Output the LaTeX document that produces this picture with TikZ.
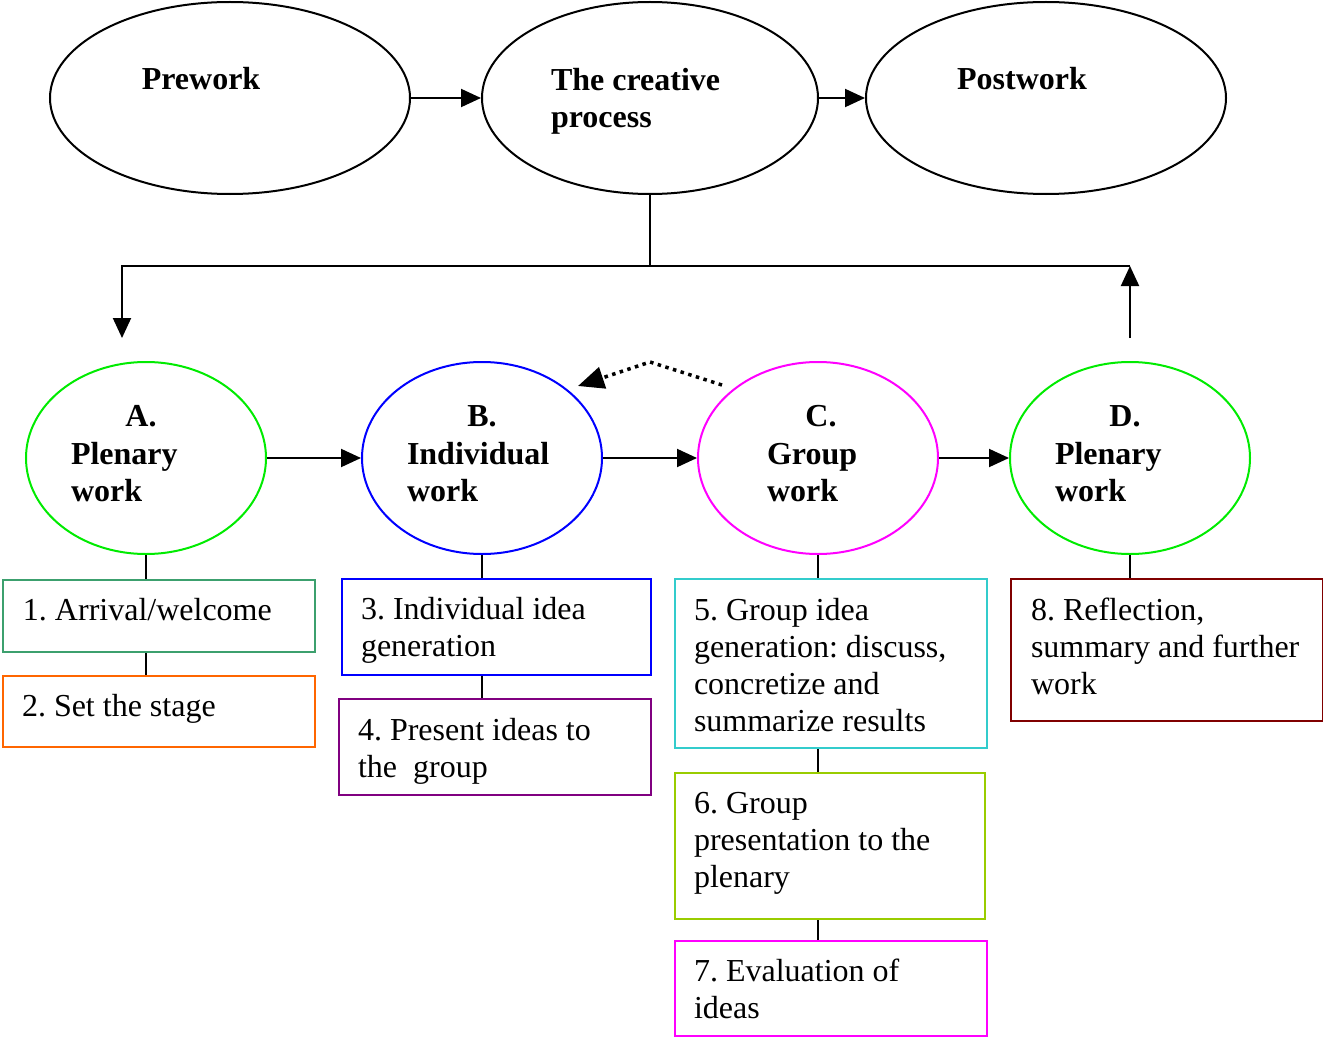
\documentclass[tikz,border=0pt]{standalone}
\usepackage{fontspec}
\setmainfont{Liberation Serif}
\usetikzlibrary{shapes.geometric,arrows.meta}

\definecolor{boxgreen}{RGB}{60,160,110}
\definecolor{boxorange}{RGB}{255,102,0}
\definecolor{boxblue}{RGB}{0,0,255}
\definecolor{boxpurple}{RGB}{128,0,128}
\definecolor{boxcyan}{RGB}{51,204,204}
\definecolor{boxlime}{RGB}{153,204,0}
\definecolor{boxmagenta}{RGB}{255,0,255}
\definecolor{boxred}{RGB}{128,0,0}
\definecolor{ovalgreen}{RGB}{0,235,0}

\newcommand{\firstline}{\rule{0pt}{24pt}}

\tikzset{
  every picture/.style={line width=2pt},
  phase/.style={ellipse, draw=black, minimum width=360pt, minimum height=192pt, inner sep=0pt},
  stage/.style={ellipse, draw=#1, minimum width=240pt, minimum height=192pt, inner sep=0pt},
  taskbox/.style={rectangle, draw=#1, anchor=north west, inner sep=0pt},
  tasktext/.style={anchor=north west, inner sep=0pt, align=left,
                   font=\fontsize{32}{37}\selectfont\frenchspacing},
  headtext/.style={inner sep=0pt, align=left,
                   font=\fontsize{32}{37}\selectfont\bfseries\frenchspacing},
  arr/.style={-{Triangle[length=20pt,width=18pt]}},
  link/.style={draw=black},
  backflow/.style={dotted, line width=3.5pt, dash pattern=on 3.5pt off 4.5pt,
                   -{Triangle[length=26pt,width=22pt]}},
}

\begin{document}
\begin{tikzpicture}[x=1pt,y=-1pt]
\useasboundingbox (0,0) rectangle (1323,1038);

% the three phases
\node[phase] (pre) at (230,98) {};
\node[phase, minimum width=336pt] (cp) at (650,98) {};
\node[phase] (post) at (1046,98) {};
\node[headtext, anchor=base] (preT) at (201,90) {Prework};
\node[headtext, anchor=north west] (cpT) at (550,66) {\firstline The creative\\process};
\node[headtext, anchor=base] (postT) at (1022,90) {Postwork};

\draw[arr] (pre.east) -- (cp.west);
\draw[arr] (cp.east) -- (post.west);

% the four stages of the creative process
\node[stage=ovalgreen] (A) at (146,458) {};
\node[stage=boxblue] (B) at (482,458) {};
\node[stage=boxmagenta] (C) at (818,458) {};
\node[stage=ovalgreen] (D) at (1130,458) {};

\node[headtext, anchor=base] (AT1) at (141,426) {A.};
\node[headtext, anchor=north west] (AT2) at (70,439) {\firstline Plenary\\work};
\node[headtext, anchor=base] (BT1) at (482,426) {B.};
\node[headtext, anchor=north west] (BT2) at (406,439) {\firstline Individual\\work};
\node[headtext, anchor=base] (CT1) at (821,426) {C.};
\node[headtext, anchor=north west] (CT2) at (766,439) {\firstline Group\\work};
\node[headtext, anchor=base] (DT1) at (1125,426) {D.};
\node[headtext, anchor=north west] (DT2) at (1054,439) {\firstline Plenary\\work};

\draw[arr] (A.east) -- (B.west);
\draw[arr] (B.east) -- (C.west);
\draw[arr] (C.east) -- (D.west);

% loop from the creative process through the stages
\coordinate (split) at (650,266);
\coordinate (aCorner) at (122,266);
\coordinate (aIn) at (122,338);
\coordinate (dCorner) at (1130,266);
\coordinate (dOut) at (1130,338);
\draw[link] (cp.south) -- (split);
\draw[arr] (dCorner) -- (aCorner) -- (aIn);
\draw[arr] (dOut) -- (dCorner);

% dotted return from group work to individual work
\coordinate (fbStart) at (722,385);
\coordinate (fbTop) at (650,362);
\coordinate (fbEnd) at (578,386);
\draw[backflow] (fbStart) -- (fbTop) -- (fbEnd);

% task boxes
\node[taskbox=boxgreen, minimum width=312pt, minimum height=72pt] (t1) at (2,579) {};
\node[taskbox=boxorange, minimum width=312pt, minimum height=71pt] (t2) at (2,675) {};
\node[taskbox=boxblue, minimum width=309pt, minimum height=96pt] (t3) at (341,578) {};
\node[taskbox=boxpurple, minimum width=312pt, minimum height=96pt] (t4) at (338,698) {};
\node[taskbox=boxcyan, minimum width=312pt, minimum height=169pt] (t5) at (674,578) {};
\node[taskbox=boxlime, minimum width=310pt, minimum height=146pt] (t6) at (674,772) {};
\node[taskbox=boxmagenta, minimum width=312pt, minimum height=95pt] (t7) at (674,940) {};
\node[taskbox=boxred, minimum width=312pt, minimum height=142pt] (t8) at (1010,578) {};

\node[tasktext] (t1T) at (22,595) {\firstline 1. Arrival/welcome};
\node[tasktext] (t2T) at (21,691) {\firstline 2. Set the stage};
\node[tasktext] (t3T) at (360,594) {\firstline 3. Individual idea\\generation};
\node[tasktext] (t4T) at (357,715) {\firstline 4. Present ideas to\\the\ \ group};
\node[tasktext] (t5T) at (693,595) {\firstline 5. Group idea\\generation: discuss,\\concretize and\\summarize results};
\node[tasktext] (t6T) at (693,788) {\firstline 6. Group\\presentation to the\\plenary};
\node[tasktext] (t7T) at (693,956) {\firstline 7. Evaluation of\\ideas};
\node[tasktext] (t8T) at (1030,595) {\firstline 8. Reflection,\\summary and further\\work};

% links from stages to their tasks
\draw[link] (A.south) -- (A.south |- t1.north);
\draw[link] (A.south |- t1.south) -- (A.south |- t2.north);
\draw[link] (B.south) -- (B.south |- t3.north);
\draw[link] (B.south |- t3.south) -- (B.south |- t4.north);
\draw[link] (C.south) -- (C.south |- t5.north);
\draw[link] (C.south |- t5.south) -- (C.south |- t6.north);
\draw[link] (C.south |- t6.south) -- (C.south |- t7.north);
\draw[link] (D.south) -- (D.south |- t8.north);
\end{tikzpicture}
\end{document}
